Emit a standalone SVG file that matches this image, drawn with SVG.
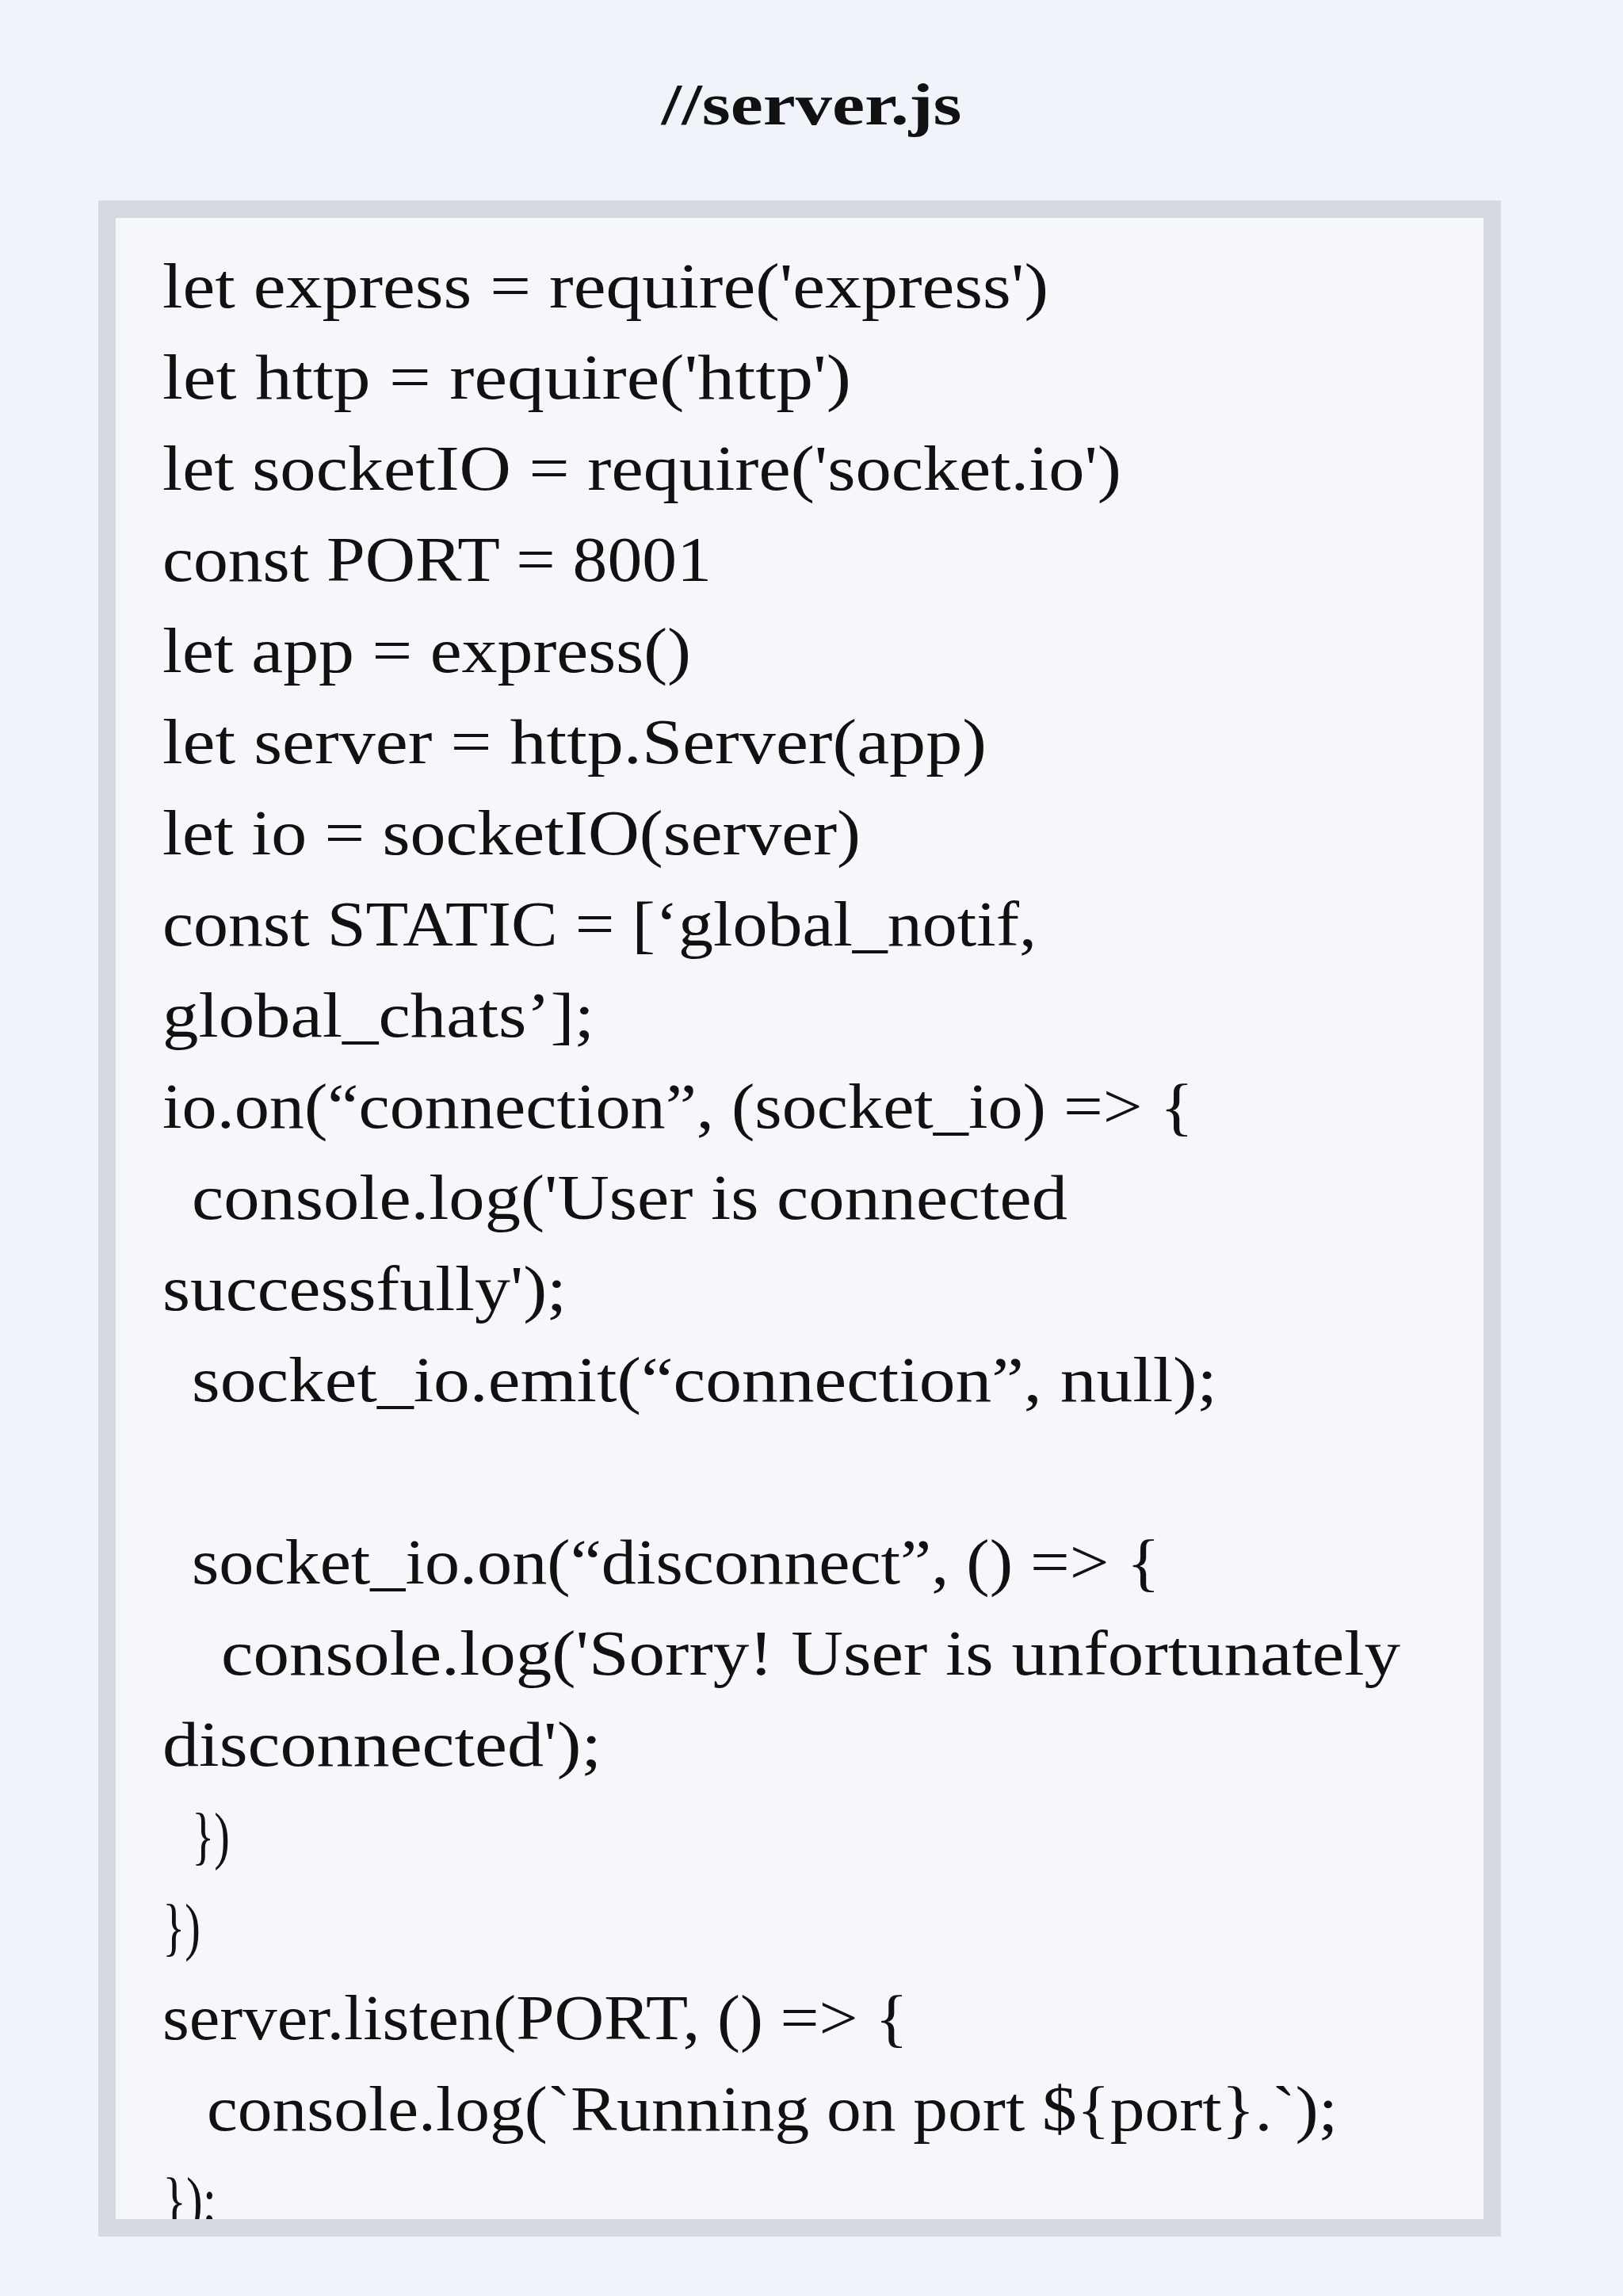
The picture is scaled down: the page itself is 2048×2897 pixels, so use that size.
<svg xmlns="http://www.w3.org/2000/svg" width="2048" height="2897" viewBox="0 0 2048 2897">
<style>
.c{font-family:"Liberation Serif",serif;font-size:80px;fill:#111}
.t{font-family:"Liberation Serif",serif;font-size:74px;font-weight:bold;fill:#111}
</style>
<rect width="2048" height="2897" fill="#f1f3fa"/>
<g id="title"><text class="t" x="1024" y="157" text-anchor="middle" textLength="379" lengthAdjust="spacingAndGlyphs">//server.js</text></g>
<g id="code">
<rect x="135" y="264" width="1748" height="2547" fill="#f6f7fb"/>
<text class="c" x="205" y="388" textLength="1118" lengthAdjust="spacingAndGlyphs">let express = require('express')</text>
<text class="c" x="205" y="503" textLength="869" lengthAdjust="spacingAndGlyphs">let http = require('http')</text>
<text class="c" x="205" y="618" textLength="1210" lengthAdjust="spacingAndGlyphs">let socketIO = require('socket.io')</text>
<text class="c" x="205" y="733" textLength="693" lengthAdjust="spacingAndGlyphs">const PORT = 8001</text>
<text class="c" x="205" y="848" textLength="667" lengthAdjust="spacingAndGlyphs">let app = express()</text>
<text class="c" x="205" y="963" textLength="1040" lengthAdjust="spacingAndGlyphs">let server = http.Server(app)</text>
<text class="c" x="205" y="1078" textLength="881" lengthAdjust="spacingAndGlyphs">let io = socketIO(server)</text>
<text class="c" x="205" y="1193" textLength="1103" lengthAdjust="spacingAndGlyphs">const STATIC = [‘global_notif,</text>
<text class="c" x="205" y="1308" textLength="545" lengthAdjust="spacingAndGlyphs">global_chats’];</text>
<text class="c" x="205" y="1423" textLength="1301" lengthAdjust="spacingAndGlyphs">io.on(“connection”, (socket_io) =&gt; {</text>
<text class="c" x="242" y="1538" textLength="1105" lengthAdjust="spacingAndGlyphs">console.log('User is connected</text>
<text class="c" x="205" y="1653" textLength="510" lengthAdjust="spacingAndGlyphs">successfully');</text>
<text class="c" x="242" y="1768" textLength="1294" lengthAdjust="spacingAndGlyphs">socket_io.emit(“connection”, null);</text>
<text class="c" x="242" y="1998" textLength="1222" lengthAdjust="spacingAndGlyphs">socket_io.on(“disconnect”, () =&gt; {</text>
<text class="c" x="279" y="2113" textLength="1488" lengthAdjust="spacingAndGlyphs">console.log('Sorry! User is unfortunately</text>
<text class="c" x="205" y="2228" textLength="554" lengthAdjust="spacingAndGlyphs">disconnected');</text>
<text class="c" x="242" y="2343" textLength="48" lengthAdjust="spacingAndGlyphs">})</text>
<text class="c" x="205" y="2458" textLength="48" lengthAdjust="spacingAndGlyphs">})</text>
<text class="c" x="205" y="2573" textLength="941" lengthAdjust="spacingAndGlyphs">server.listen(PORT, () =&gt; {</text>
<text class="c" x="261" y="2688" textLength="1427" lengthAdjust="spacingAndGlyphs">console.log(`Running on port ${port}.`);</text>
<text class="c" x="205" y="2803" textLength="68" lengthAdjust="spacingAndGlyphs">});</text>
<rect x="135" y="264" width="1748" height="2547" fill="none" stroke="#d5d9e0" stroke-width="22"/>
</g>
</svg>
